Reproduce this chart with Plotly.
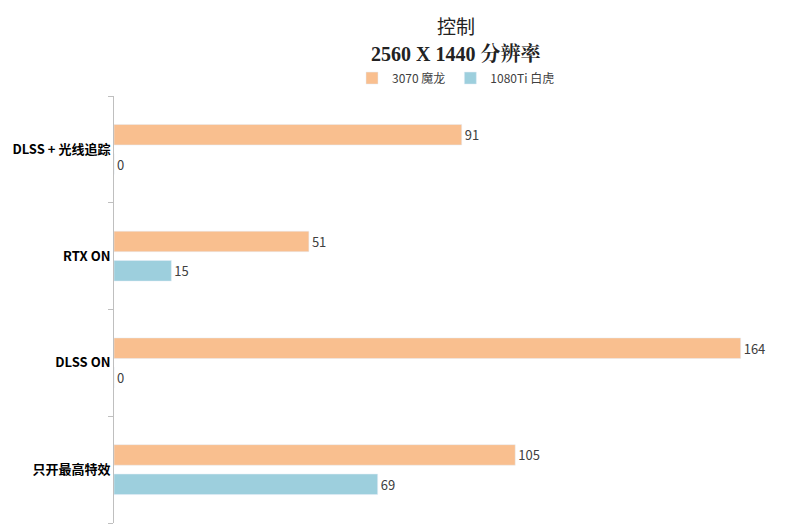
import plotly.graph_objects as go

categories = ["只开最高特效", "DLSS ON", "RTX ON", "DLSS + 光线追踪"]
s3070 = [105, 164, 51, 91]
s1080 = [69, 0, 15, 0]
name3070 = "3070 魔龙"
name1080 = "1080Ti 白虎"
title1 = "控制"
title2 = "2560 X 1440 分辨率"

fig = go.Figure()
fig.add_trace(go.Bar(y=categories, x=s1080, name=name1080, orientation="h",
                     marker_color="#9DCFDD", text=s1080, textposition="outside",
                     cliponaxis=False, legendrank=2))
fig.add_trace(go.Bar(y=categories, x=s3070, name=name3070, orientation="h",
                     marker_color="#F9BF8F", text=s3070, textposition="outside",
                     cliponaxis=False, legendrank=1))
fig.update_traces(textfont=dict(size=13, color="#404040", family="Noto Sans CJK SC"))
fig.add_annotation(text=title1, xref="paper", yref="paper", x=0.5, y=1.164, showarrow=False,
                   yanchor="middle", font=dict(size=19, color="#222", family="Noto Sans CJK SC"))
fig.add_annotation(text="<b>" + title2 + "</b>", xref="paper", yref="paper", x=0.5, y=1.10,
                   showarrow=False, yanchor="middle",
                   font=dict(size=20, color="#222", family="Liberation Serif, Noto Serif CJK SC, Noto Sans CJK SC"))
fig.update_layout(
    width=800, height=526, paper_bgcolor="white", plot_bgcolor="white",
    margin=dict(l=106, r=10, t=88, b=11, autoexpand=False),
    barmode="group", bargap=0.45, bargroupgap=0.3,
    legend=dict(orientation="h", x=0.5, xanchor="center", y=1.042, yanchor="middle",
                font=dict(size=12, color="#404040", family="Noto Sans CJK SC"), itemwidth=30),
    xaxis=dict(range=[0, 179], visible=False),
    yaxis=dict(showline=True, linecolor="#BFBFBF", ticks="outside", tickson="boundaries",
               tickcolor="#BFBFBF", ticklen=5, showgrid=False,
               tickfont=dict(size=13, color="#000", family="Noto Sans CJK SC", weight="bold")),
)
fig.write_html("out.html")
